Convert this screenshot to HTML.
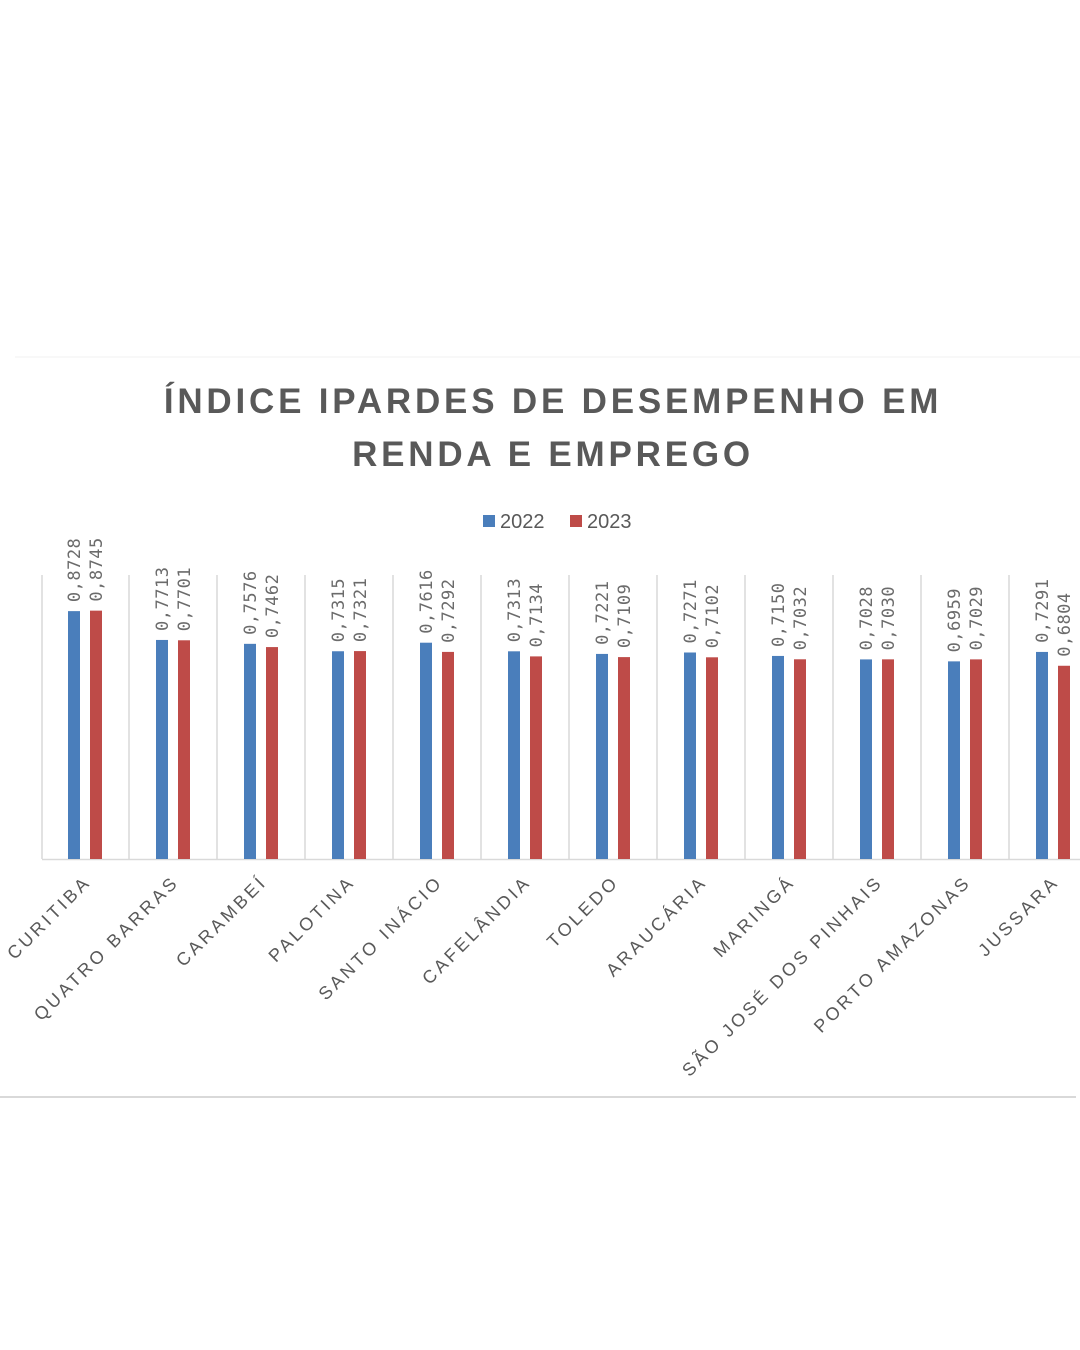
<!DOCTYPE html>
<html><head><meta charset="utf-8"><style>
html,body{margin:0;padding:0;background:#fff;width:1080px;height:1350px;overflow:hidden}
</style></head><body>
<svg width="1080" height="1350" xmlns="http://www.w3.org/2000/svg">
<line x1="15" y1="357" x2="1080" y2="357" stroke="#f2f2f2" stroke-width="1"/>
<line x1="0" y1="1097" x2="1076" y2="1097" stroke="#d9d9d9" stroke-width="2"/>
<g font-family="'Liberation Sans',sans-serif" font-weight="bold" font-size="35" fill="#595959" text-anchor="middle" letter-spacing="3.8">
<text x="553" y="413">ÍNDICE IPARDES DE DESEMPENHO EM</text>
<text x="553" y="466">RENDA E EMPREGO</text>
</g>
<rect x="483" y="515" width="12" height="12" fill="#4a7ebb"/>
<text x="500" y="528" font-family="'Liberation Sans',sans-serif" font-size="20" fill="#595959">2022</text>
<rect x="570" y="515" width="12" height="12" fill="#be4b48"/>
<text x="587" y="528" font-family="'Liberation Sans',sans-serif" font-size="20" fill="#595959">2023</text>
<g stroke="#d9d9d9" stroke-width="1.5">
<line x1="42" y1="575" x2="42" y2="859"/><line x1="129" y1="575" x2="129" y2="859"/><line x1="217" y1="575" x2="217" y2="859"/><line x1="305" y1="575" x2="305" y2="859"/><line x1="393" y1="575" x2="393" y2="859"/><line x1="481" y1="575" x2="481" y2="859"/><line x1="569" y1="575" x2="569" y2="859"/><line x1="657" y1="575" x2="657" y2="859"/><line x1="745" y1="575" x2="745" y2="859"/><line x1="833" y1="575" x2="833" y2="859"/><line x1="921" y1="575" x2="921" y2="859"/><line x1="1009" y1="575" x2="1009" y2="859"/>
<line x1="42" y1="859.5" x2="1080" y2="859.5"/>
</g>
<g id="bars"></g>
</svg>
<script>
var d=[["CURITIBA",.8728,.8745],["QUATRO BARRAS",.7713,.7701],["CARAMBEÍ",.7576,.7462],["PALOTINA",.7315,.7321],["SANTO INÁCIO",.7616,.7292],["CAFELÂNDIA",.7313,.7134],["TOLEDO",.7221,.7109],["ARAUCÁRIA",.7271,.7102],["MARINGÁ",.7150,.7032],["SÃO JOSÉ DOS PINHAIS",.7028,.7030],["PORTO AMAZONAS",.6959,.7029],["JUSSARA",.7291,.6804]];
var s="",k=284,b=859;
d.forEach(function(r,i){var c=86+88*i;
[[r[1],c-18,"#4a7ebb"],[r[2],c+4,"#be4b48"]].forEach(function(v){var h=v[0]*k,y=b-h;
s+='<rect x="'+v[1]+'" y="'+y+'" width="12" height="'+h+'" fill="'+v[2]+'"/>';
var tx=v[1]+12,ty=y-9;
s+='<text transform="translate('+tx+','+ty+') rotate(-90)" font-family="\'DejaVu Sans Mono\',monospace" font-size="17" letter-spacing="0.5" fill="#6b6b6b">'+v[0].toFixed(4).replace(".",",")+'</text>';});
s+='<text transform="translate('+(c+6)+',883) rotate(-45)" text-anchor="end" font-family="\'Liberation Sans\',sans-serif" font-size="18" letter-spacing="3.2" fill="#595959">'+r[0]+'</text>';});
document.getElementById("bars").innerHTML=s;
</script>
</body></html>
